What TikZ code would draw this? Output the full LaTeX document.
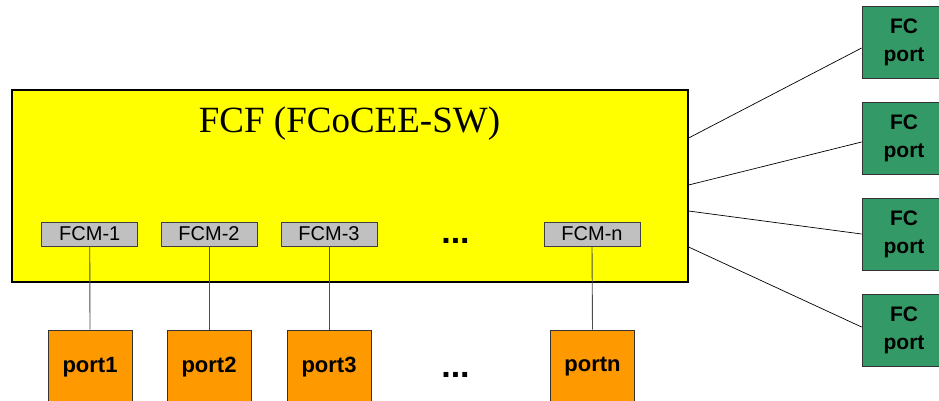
\documentclass[tikz,border=0pt]{standalone}
\usepackage{fontspec}
\setmainfont{Liberation Serif}
\setsansfont{Liberation Sans}
\definecolor{fcfyellow}{HTML}{FFFF00}
\definecolor{fcmgray}{HTML}{C0C0C0}
\definecolor{portorange}{HTML}{FF9900}
\definecolor{fcgreen}{HTML}{339966}
\begin{document}
\begin{tikzpicture}[x=1pt,y=-1pt,
  fcfbox/.style={draw=black, line width=1.2pt, fill=fcfyellow, minimum width=676pt, minimum height=192pt, inner sep=0pt},
  fcmbox/.style={draw=black!75, line width=0.8pt, fill=fcmgray, minimum width=96pt, minimum height=24pt, inner sep=0pt, font=\sffamily\fontsize{20}{22}\selectfont},
  portbox/.style={draw=black!80, line width=0.8pt, fill=portorange, minimum width=84pt, minimum height=74pt, inner sep=0pt, font=\sffamily\bfseries\fontsize{22}{24}\selectfont},
  fcbox/.style={draw=black!80, line width=0.8pt, fill=fcgreen, minimum width=84pt, minimum height=72pt, inner sep=0pt, align=center, font=\sffamily\bfseries\fontsize{21}{28}\selectfont},
  dots/.style={inner sep=0pt, anchor=base, font=\sffamily\bfseries\fontsize{34}{36}\selectfont},
  link/.style={draw=black, line width=0.7pt},
  drop/.style={draw=black!70, line width=0.9pt}]
\clip (0,0) rectangle (939,400);
\fill[white] (0,0) rectangle (939,400);
% main switch box
\node[fcfbox] (fcf) at (350,186) {};
\node[inner sep=0pt, font=\fontsize{37}{40}\selectfont] (title) at (349.5,124) {FCF (FCoCEE-SW)};
% FCM modules
\node[fcmbox] (fcm1) at (89.75,234) {FCM-1};
\node[fcmbox] (fcm2) at (209,234) {FCM-2};
\node[fcmbox] (fcm3) at (329,234) {FCM-3};
\node[fcmbox] (fcmn) at (592,234) {FCM-n};
\node[dots] (dotsA) at (455.5,243) {...};
% ports
\node[portbox] (p1) at (90,367) {port1};
\node[portbox] (p2) at (209,367) {port2};
\node[portbox] (p3) at (329,367) {port3};
\node[portbox] (pn) at (592.5,367) {portn};
\node[dots] (dotsB) at (455.5,377) {...};
% FC ports
\node[fcbox] (fc1) at (904,42) {FC\\port};
\node[fcbox] (fc2) at (904,138) {FC\\port};
\node[fcbox] (fc3) at (904,234) {FC\\port};
\node[fcbox] (fc4) at (904,330) {FC\\port};
% connectors FCM -> port
\draw[drop] (fcm1.south) -- (p1.north);
\draw[drop] (fcm2.south) -- (p2.north);
\draw[drop] (fcm3.south) -- (p3.north);
\draw[drop] (fcmn.south) -- (pn.north);
% connectors FCF -> FC ports
\coordinate (e1) at ([yshift=48pt]fcf.east);
\coordinate (e2) at ([yshift=1pt]fcf.east);
\coordinate (e3) at ([yshift=-25pt]fcf.east);
\coordinate (e4) at ([yshift=-61pt]fcf.east);
\draw[link] (e1) -- ([yshift=-6pt]fc1.west);
\draw[link] (e2) -- ([yshift=-4pt]fc2.west);
\draw[link] (e3) -- (fc3.west);
\draw[link] (e4) -- ([yshift=3pt]fc4.west);
\end{tikzpicture}
\end{document}
